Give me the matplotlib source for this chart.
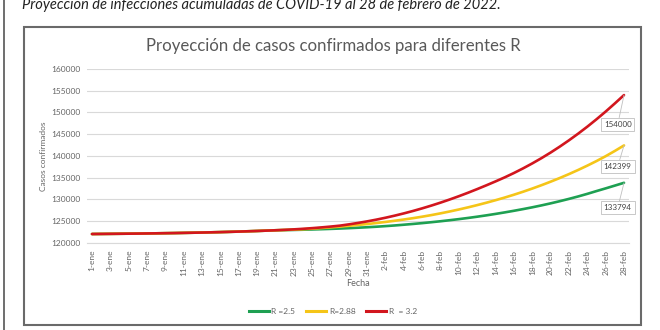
import matplotlib
matplotlib.use("Agg")
import matplotlib.pyplot as plt
from matplotlib.patches import Rectangle
from matplotlib.lines import Line2D

plt.rcParams['font.family'] = ['Lato', 'DejaVu Sans']

# ---- data ----
fechas = [f"{d}-ene" for d in range(1, 32)] + [f"{d}-feb" for d in range(1, 29)]

comun = [122000, 122020, 122040, 122060, 122080, 122100, 122130, 122160, 122190,
         122220, 122260, 122300, 122340, 122390, 122440, 122500, 122560, 122630,
         122700, 122780, 122860]

r_25 = comun + [122900, 122940, 122990, 123050, 123110, 123180, 123260, 123350,
                123450, 123560, 123680, 123820, 123970, 124140, 124320, 124510,
                124720, 124940, 125180, 125430, 125700, 125990, 126300, 126630,
                126980, 127350, 127740, 128150, 128590, 129060, 129560, 130090,
                130650, 131250, 131890, 132510, 133150, 133794]

r_288 = comun + [122930, 123010, 123100, 123230, 123380, 123540, 123710, 123890,
                 124090, 124300, 124530, 124780, 125050, 125340, 125650, 125990,
                 126360, 126760, 127190, 127650, 128140, 128660, 129210, 129790,
                 130400, 131050, 131740, 132470, 133240, 134050, 134900, 135800,
                 136750, 137750, 138800, 139920, 141130, 142399]

r_32 = comun + [122960, 123070, 123200, 123350, 123520, 123710, 123920, 124220,
                124550, 124910, 125310, 125750, 126230, 126750, 127310, 127910,
                128550, 129230, 129950, 130710, 131510, 132350, 133220, 134120,
                135050, 136050, 137120, 138260, 139470, 140760, 142130, 143580,
                145110, 146720, 148420, 150200, 152070, 154000]

series_labels = ["R =2.5", "R=2.88", "R  = 3.2"]
series_colors = ["#1ea052", "#f5c518", "#d2161e"]
y_ticks = [120000, 125000, 130000, 135000, 140000, 145000, 150000, 155000, 160000]

# ---- figure ----
W, H = 660, 330
fig = plt.figure(figsize=(W / 100, H / 100), dpi=100)

def fx(px):
    return px / W

def fy(py):
    return 1 - py / H

# page border + top italic caption (partly cut at the top, as in the source)
fig.add_artist(Line2D([fx(4), fx(4)], [0, 1], color="#555555", lw=1.2))
fig.text(fx(22), fy(9), "Proyección de infecciones acumuladas de COVID-19 al 28 de febrero de 2022.",
         fontsize=10.5, style="italic", color="#222222", ha="left", va="baseline")

# chart frame
fig.add_artist(Rectangle((fx(24), fy(325)), fx(617), 298 / H, transform=fig.transFigure,
                         fill=False, ec="#6a6a6a", lw=1.5))

fig.text(fx(333), fy(46), "Proyección de casos confirmados para diferentes R",
         fontsize=12.1, color="#595959", ha="center", va="center")

ax = fig.add_axes([fx(87.4), fy(242.7), fx(541.2), 173.7 / H])
x = list(range(len(fechas)))
for vals, lab, col in zip([r_25, r_288, r_32], series_labels, series_colors):
    ax.plot(x, vals, color=col, lw=1.9, label=lab, solid_capstyle="round")

ax.set_xlim(-0.5, len(fechas) - 0.5)
ax.set_ylim(120000, 160000)
ax.set_yticks(y_ticks)
ax.set_yticklabels([str(v) for v in y_ticks], fontsize=6, color="#656565")
ax.set_xticks(x[::2])
ax.set_xticklabels(fechas[::2], rotation=90, fontsize=6, color="#656565")
ax.tick_params(axis="both", length=0, pad=5)
ax.grid(axis="y", color="#d9d9d9", lw=0.8)
ax.set_axisbelow(True)
for s in ["top", "right", "left"]:
    ax.spines[s].set_visible(False)
ax.spines["bottom"].set_color("#d9d9d9")
ax.spines["bottom"].set_linewidth(0.8)

ax.set_ylabel("Casos confirmados", fontsize=6, color="#656565", labelpad=3)
fig.text(fx(358), fy(283), "Fecha", fontsize=6.5, color="#656565", ha="center", va="center")

# data callouts at the last point
offsets = [(-4.5, -18), (-4.5, -15), (-4.5, -21)]
for vals, (ox, oy) in zip([r_25, r_288, r_32], offsets):
    ax.annotate(str(vals[-1]), xy=(x[-1], vals[-1]), xytext=(ox, oy),
                textcoords="offset points", ha="center", va="center",
                fontsize=5.8, color="#404040",
                bbox=dict(boxstyle="square,pad=0.35", fc="white", ec="#bfbfbf", lw=0.6),
                arrowprops=dict(arrowstyle="-", color="#bfbfbf", lw=0.6,
                                shrinkA=0, shrinkB=0))

handles = [Line2D([], [], color=c, lw=2.2) for c in series_colors]
fig.legend(handles, series_labels, loc="center", bbox_to_anchor=(fx(333), fy(311)),
           ncol=3, frameon=False, fontsize=6, handlelength=2.4, handletextpad=0.3,
           columnspacing=1.3, labelcolor="#656565")

fig.savefig("out.png", dpi=100)
